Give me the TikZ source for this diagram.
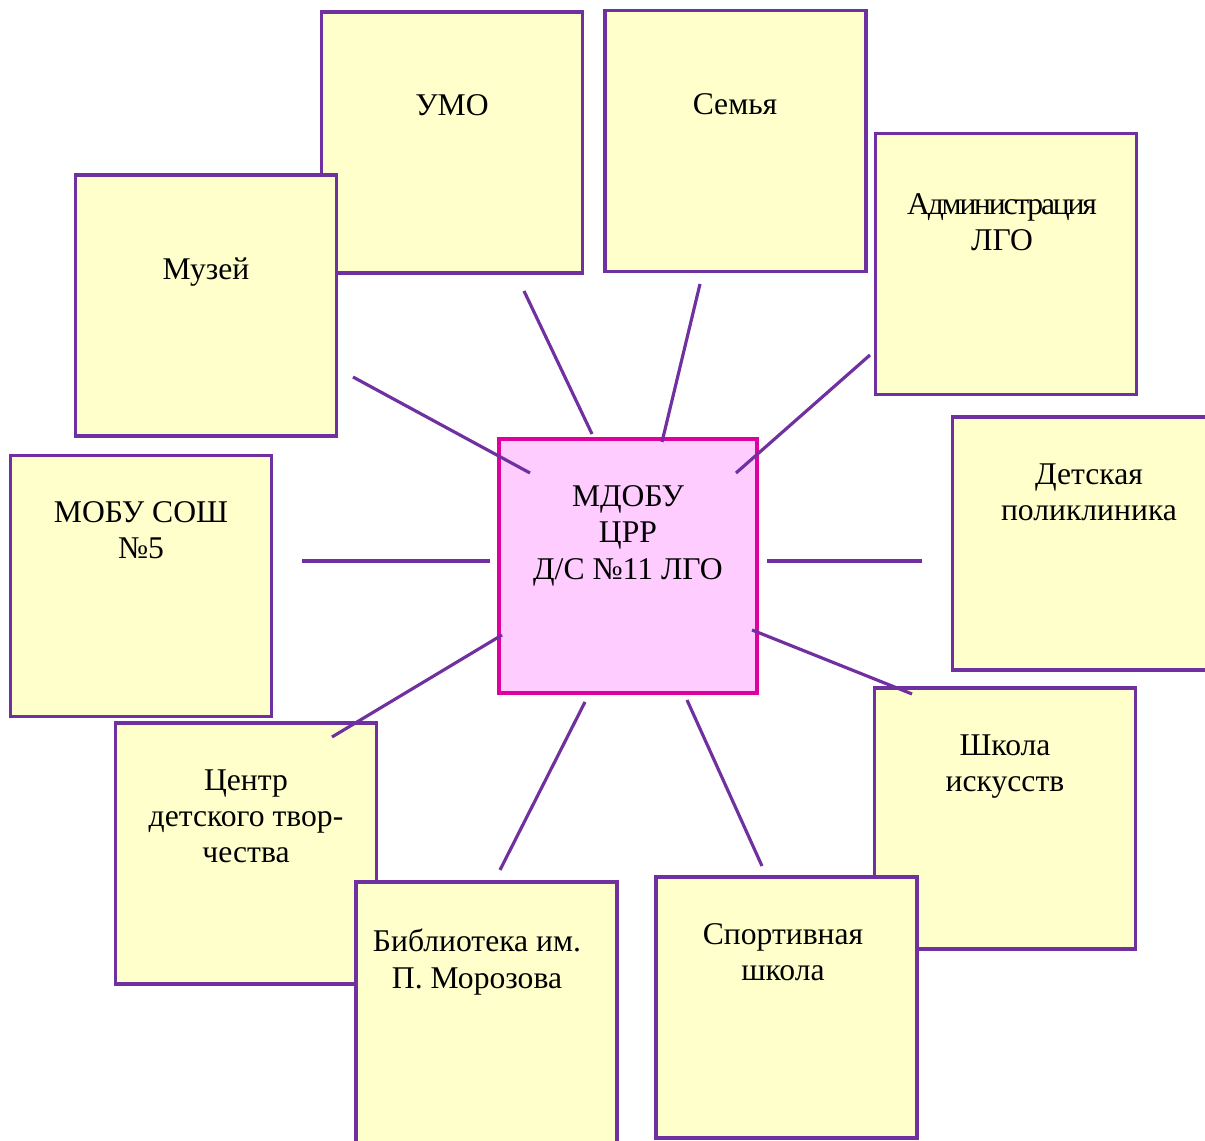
\documentclass[tikz,border=0pt]{standalone}
\usepackage{fontspec}
\setmainfont{Liberation Serif}
\usepackage{tikz}
\usetikzlibrary{calc,positioning}
\definecolor{lila}{RGB}{112,48,160}
\definecolor{paleyellow}{RGB}{255,255,204}
\definecolor{palepink}{RGB}{255,204,255}
\definecolor{magentaline}{RGB}{224,0,160}
\tikzset{% boxes and links of the scheme
	box/.style={draw=lila,fill=paleyellow,line width=1.8pt,minimum width=5.22cm,minimum height=5.22cm,inner sep=0pt},
	hub/.style={draw=magentaline,fill=palepink,line width=1.8pt,minimum width=5.16cm,minimum height=5.08cm,inner sep=0pt},
	txt/.style={anchor=north,align=center,inner sep=0pt,font=\fontsize{18}{20.7}\selectfont},
	link/.style={draw=lila,line width=1.8pt}
}
\begin{document}
\begin{tikzpicture}[x=0.02cm,y=-0.02cm]
\clip (0,0) rectangle (1205,1141);
% partner boxes
\node[box] (umo) at (452,142.5) {};
\node[box] (semya) at (735.5,141) {};
\node[box] (muzey) at (206,305.5) {};
\node[box] (adm) at (1006,264) {};
\node[box] (mobu) at (141,586) {};
\node[box,minimum height=5.06cm] (polikl) at (1083,543.5) {};
\node[box] (cdt) at (246,853.5) {};
\node[box] (bibl) at (486.5,1012.5) {};
\node[box] (shkola) at (1005,818.5) {};
\node[box] (sport) at (786.5,1007.5) {};
% kindergarten in the middle
\node[hub] (mdobu) at (628,566) {};
% texts
\node[txt] (umoT) at (452,94) {УМО};
\node[txt] (semyaT) at (735,93) {Семья};
\node[txt] (muzeyT) at (206,258) {Музей};
\node[txt] (admT) at (1002,193) {\addfontfeature{LetterSpace=-7}Администрация\\ЛГО};
\node[txt] (mobuT) at (141,501) {МОБУ СОШ\\№5};
\node[txt] (poliklT) at (1089,463) {Детская\\поликлиника};
\node[txt] (cdtT) at (246,769) {Центр\\детского твор-\\чества};
\node[txt] (shkolaT) at (1005,734) {Школа\\искусств};
\node[txt] (biblT) at (477,929) {Библиотека им.\\П. Морозова};
\node[txt] (sportT) at (783,923) {Спортивная\\школа};
\node[txt] (mdobuT) at (628,485) {МДОБУ\\ЦРР\\Д/С №11 ЛГО};
% ends of the links
\coordinate (umoA) at (524,291);    \coordinate (umoB) at (592,434);
\coordinate (semyaA) at (700,284);  \coordinate (semyaB) at (662,442);
\coordinate (admA) at (870,355);    \coordinate (admB) at (736,473);
\coordinate (muzeyA) at (353,377);  \coordinate (muzeyB) at (530,473);
\coordinate (mobuA) at (302,561);   \coordinate (mobuB) at (490,561);
\coordinate (poliklA) at (922,561); \coordinate (poliklB) at (767,561);
\coordinate (cdtA) at (332,737);    \coordinate (cdtB) at (502,635);
\coordinate (shkolaA) at (912,694); \coordinate (shkolaB) at (752,630);
\coordinate (biblA) at (500,870);   \coordinate (biblB) at (585,702);
\coordinate (sportA) at (762,866);  \coordinate (sportB) at (687,700);
\foreach \n in {umo,semya,adm,muzey,mobu,polikl,cdt,shkola,bibl,sport}
	\draw[link] (\n A) -- (\n B);
\end{tikzpicture}
\end{document}
